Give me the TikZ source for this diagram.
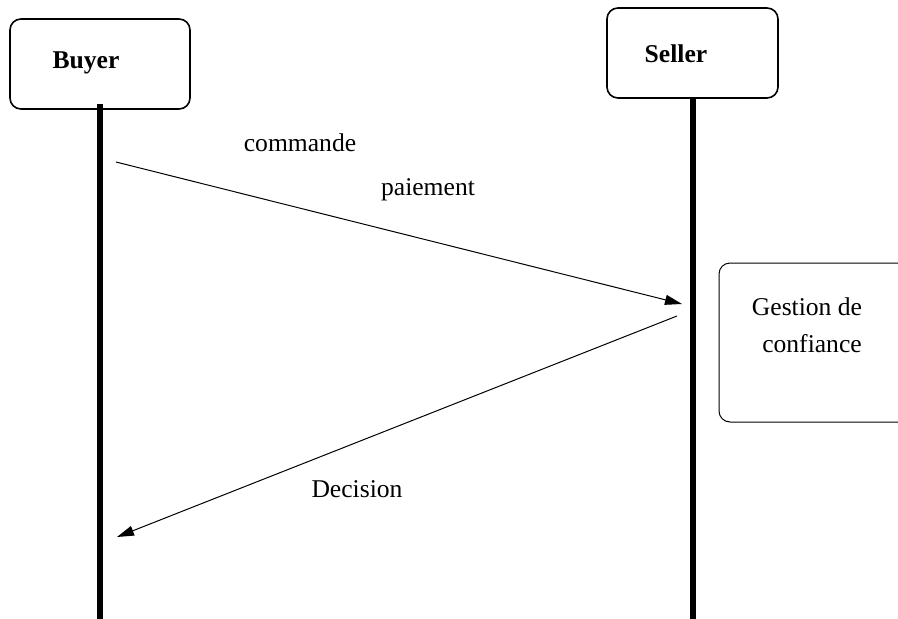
\documentclass[tikz,border=0pt]{standalone}
\usepackage{fontspec}
\setmainfont{Liberation Serif}
\usetikzlibrary{arrows.meta}
\begin{document}
\begin{tikzpicture}[x=1pt,y=-1pt,
  actorbox/.style={draw,line width=1.6pt,rounded corners=11pt,minimum width=180pt,minimum height=90pt,inner sep=0pt},
  lbl/.style={anchor=base,inner sep=0pt,font=\fontsize{25.6}{30}\selectfont},
  blbl/.style={lbl,font=\fontsize{25.6}{30}\selectfont\bfseries},
  lifeline/.style={line width=6pt},
  msg/.style={line width=1pt,-{Triangle[length=17pt,width=10pt]}}]
\useasboundingbox (0,0) rectangle (898,619);
\node[actorbox] (buyer) at (100,64) {};
\node[actorbox,minimum width=171pt] (seller) at (692.5,53) {};
\node[blbl] (buyerlbl) at (86,68) {Buyer};
\node[blbl] (sellerlbl) at (676,62) {Seller};
\coordinate (buyerend) at (100,619);
\coordinate (sellerend) at (693,619);
\draw[lifeline] (100,104) -- (buyerend);
\draw[lifeline] (693,98) -- (sellerend);
\draw[line width=1pt,rounded corners=11pt] (899,263) -- (719,263) -- (719,422) -- (899,422);
\node[lbl] (g1) at (807,315) {Gestion de};
\node[lbl] (g2) at (812,352) {confiance};
\coordinate (m1s) at (116,162);
\coordinate (m1e) at (682,304);
\coordinate (m2s) at (677,316);
\coordinate (m2e) at (117,537);
\draw[msg] (m1s) -- (m1e);
\draw[msg] (m2s) -- (m2e);
\node[lbl] (commande) at (300,151) {commande};
\node[lbl] (paiement) at (428,195) {paiement};
\node[lbl] (decision) at (357,497) {Decision};
\end{tikzpicture}
\end{document}
